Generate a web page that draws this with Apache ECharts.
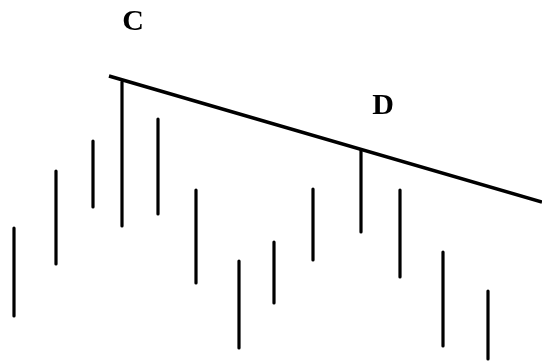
<!DOCTYPE html>
<html>
<head>
<meta charset="utf-8">
<script src="https://cdn.jsdelivr.net/npm/echarts@6/dist/echarts.min.js"></script>
<style>
  html, body { margin: 0; padding: 0; background: #fff; }
  #main { width: 542px; height: 361px; }
</style>
</head>
<body>
<div id="main"></div>
<script>
// bar positions (time axis) and high / low prices
var barX = [14, 56, 93, 122, 158, 196, 239, 274, 313, 361, 400, 443, 488];
var highs = [133, 190, 220, 279, 242, 171, 100, 119, 172, 211, 171, 109, 70];
var lows = [45, 97, 154, 135, 147, 78, 13, 58, 101, 129, 84, 15, 2];

// trendline through C and D
var trendX = [109, 542];
var trendY = [285, 159];

var labelNames = ['C', 'D'];
var labelX = [133, 383];
var labelY = [339, 255];

var myChart = echarts.init(document.getElementById('main'), null, {
  width: 542,
  height: 361
});

var bars = barX.map(function (x, i) {
  return [x, lows[i], highs[i]];
});

let option = {
  backgroundColor: '#ffffff',
  animation: false,
  grid: { left: 0, right: 0, top: 0, bottom: 0 },
  xAxis: {
    type: 'value',
    min: 0,
    max: 542,
    show: false
  },
  yAxis: {
    type: 'value',
    min: 0,
    max: 361,
    show: false
  },
  series: [
    {
      type: 'custom',
      data: bars,
      renderItem: function (params, api) {
        var lo = api.coord([api.value(0), api.value(1)]);
        var hi = api.coord([api.value(0), api.value(2)]);
        return {
          type: 'line',
          shape: { x1: lo[0], y1: lo[1], x2: hi[0], y2: hi[1] },
          style: { stroke: '#000', lineWidth: 3.2, lineCap: 'round' }
        };
      }
    },
    {
      type: 'line',
      data: trendX.map(function (x, i) { return [x, trendY[i]]; }),
      symbol: 'none',
      lineStyle: { color: '#000', width: 3.5 }
    },
    {
      type: 'scatter',
      symbolSize: 0,
      itemStyle: { opacity: 1 },
      data: labelX.map(function (x, i) { return { name: labelNames[i], value: [x, labelY[i]] }; }),
      label: {
        show: true,
        position: 'inside',
        formatter: '{b}',
        color: '#000',
        opacity: 1,
        fontFamily: 'Liberation Serif',
        fontWeight: 'bold',
        fontSize: 30
      }
    }
  ]
};

myChart.setOption(option);
</script>
</body>
</html>
